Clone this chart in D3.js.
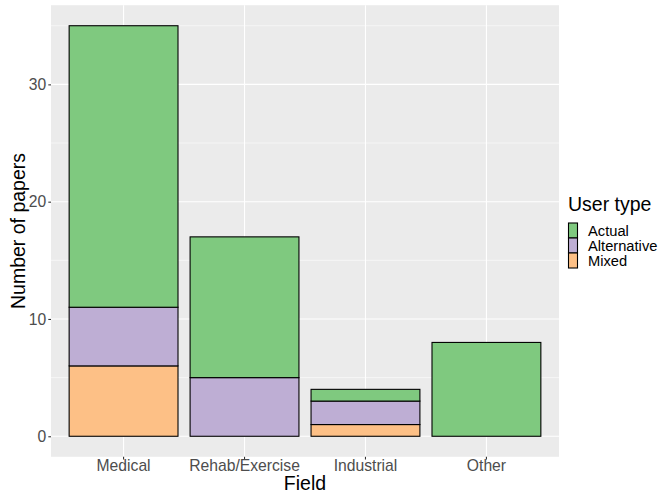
<!DOCTYPE html>
<html>
<head>
<meta charset="utf-8">
<script src="https://cdn.jsdelivr.net/npm/d3@7"></script>
<style>
  html, body { margin: 0; padding: 0; background: #fff; }
  svg { display: block; font-family: "Liberation Sans", Arial, sans-serif; }
</style>
</head>
<body>
<svg id="chart" width="666" height="493"></svg>
<script>
// ---- data ----
const fields = ["Medical", "Rehab/Exercise", "Industrial", "Other"];
const userTypes = ["Actual", "Alternative", "Mixed"];
const actual = [24, 12, 1, 8];
const alternative = [5, 5, 2, 0];
const mixed = [6, 0, 1, 0];
const yTicks = [0, 10, 20, 30];
const yMinor = [5, 15, 25, 35];
const colors = { Actual: "#7FC97F", Alternative: "#BEAED4", Mixed: "#FDC086" };

const rows = fields.map((f, i) => ({ field: f, Actual: actual[i], Alternative: alternative[i], Mixed: mixed[i] }));

// ---- layout ----
const panel = { left: 51, right: 559, top: 5.2, bottom: 456.8 };
const svg = d3.select("#chart");

const totals = rows.map(r => r.Actual + r.Alternative + r.Mixed);
const maxT = d3.max(totals);
const y = d3.scaleLinear()
  .domain([-0.05 * maxT, maxT * 1.05])
  .range([panel.bottom, panel.top]);

const x = d3.scaleBand()
  .domain(fields)
  .range([panel.left, panel.right])
  .paddingInner(0.1)
  .paddingOuter(0.15);

// panel background
svg.append("rect")
  .attr("x", panel.left).attr("y", panel.top)
  .attr("width", panel.right - panel.left).attr("height", panel.bottom - panel.top)
  .attr("fill", "#EBEBEB");

// grid
const g = svg.append("g");
g.selectAll(".minor").data(yMinor).join("line")
  .attr("x1", panel.left).attr("x2", panel.right)
  .attr("y1", d => y(d)).attr("y2", d => y(d))
  .attr("stroke", "#fff").attr("stroke-width", 0.55);
g.selectAll(".major").data(yTicks).join("line")
  .attr("x1", panel.left).attr("x2", panel.right)
  .attr("y1", d => y(d)).attr("y2", d => y(d))
  .attr("stroke", "#fff").attr("stroke-width", 1.1);
g.selectAll(".vmajor").data(fields).join("line")
  .attr("x1", d => x(d) + x.bandwidth() / 2).attr("x2", d => x(d) + x.bandwidth() / 2)
  .attr("y1", panel.top).attr("y2", panel.bottom)
  .attr("stroke", "#fff").attr("stroke-width", 1.1);

// stacked bars: Mixed bottom, Alternative, Actual top
const stack = d3.stack().keys(["Mixed", "Alternative", "Actual"]);
const series = stack(rows);
svg.append("g").selectAll("g").data(series).join("g")
  .attr("fill", d => colors[d.key])
  .selectAll("rect").data(d => d).join("rect")
  .attr("x", d => x(d.data.field))
  .attr("width", x.bandwidth())
  .attr("y", d => y(d[1]))
  .attr("height", d => y(d[0]) - y(d[1]))
  .attr("stroke", "#000").attr("stroke-width", 1.1);

// y axis
const yAxis = d3.axisLeft(y).tickValues(yTicks).tickSize(2.7).tickPadding(2);
const ya = svg.append("g").attr("transform", `translate(${panel.left},0)`).call(yAxis);
ya.select(".domain").remove();
ya.selectAll(".tick line").attr("stroke", "#333").attr("stroke-width", 1.1);
ya.selectAll(".tick text").attr("fill", "#4D4D4D").style("font-size", "15.7px")
  .attr("font-family", "Liberation Sans, Arial, sans-serif");

// x axis
const xAxis = d3.axisBottom(x).tickSize(2.7).tickPadding(0.8);
const xa = svg.append("g").attr("transform", `translate(0,${panel.bottom})`).call(xAxis);
xa.select(".domain").remove();
xa.selectAll(".tick line").attr("stroke", "#333").attr("stroke-width", 1.1);
xa.selectAll(".tick text").attr("fill", "#4D4D4D").style("font-size", "15.7px")
  .attr("font-family", "Liberation Sans, Arial, sans-serif");

// axis titles
svg.append("text")
  .attr("x", (panel.left + panel.right) / 2).attr("y", 490)
  .attr("text-anchor", "middle").style("font-size", "19.5px").attr("fill", "#000")
  .text("Field");
svg.append("text")
  .attr("transform", `translate(25,${(panel.top + panel.bottom) / 2}) rotate(-90)`)
  .attr("text-anchor", "middle").style("font-size", "19.5px").attr("fill", "#000")
  .text("Number of papers");

// legend
const lg = svg.append("g");
lg.append("text").attr("x", 568).attr("y", 211)
  .style("font-size", "19.5px").attr("fill", "#000").text("User type");
const keyH = 15, keyW = 10, keyTop = 223;
userTypes.forEach((k, i) => {
  lg.append("rect")
    .attr("x", 568.5).attr("y", keyTop + i * keyH)
    .attr("width", keyW - 1).attr("height", keyH)
    .attr("fill", colors[k]).attr("stroke", "#000").attr("stroke-width", 1.1);
  lg.append("text")
    .attr("x", 588).attr("y", keyTop + i * keyH + keyH / 2 + 5.5)
    .style("font-size", "14.7px").attr("fill", "#000").text(k);
});
</script>
</body>
</html>
